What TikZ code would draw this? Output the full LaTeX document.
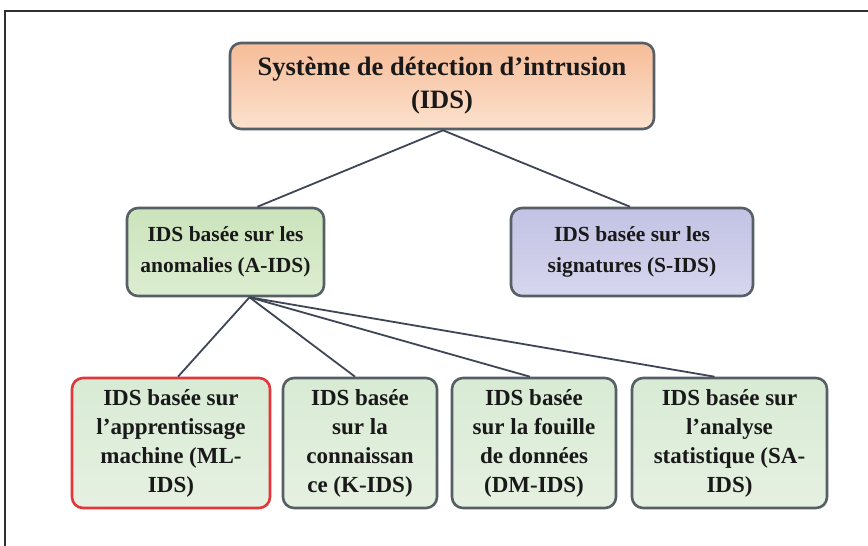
\documentclass[tikz,border=0pt]{standalone}
\usepackage{fontspec}
\setmainfont{Liberation Serif}
\begin{document}
\begin{tikzpicture}[x=1pt,y=-1pt,
  box/.style={draw=boxedge, line width=2.6pt, rounded corners=11pt,
    align=center, text=black!90, inner sep=0pt},
  rootbox/.style={box, top color=rootA, bottom color=rootB,
    minimum width=424pt, minimum height=86pt,
    font=\fontsize{26.5}{33}\selectfont\bfseries},
  midbox/.style={box, minimum height=88pt,
    font=\fontsize{21.5}{31}\selectfont\bfseries},
  leafbox/.style={box, top color=leafA, bottom color=leafB,
    minimum height=130pt, font=\fontsize{23}{29}\selectfont\bfseries},
  link/.style={draw=linkcol, line width=1.8pt}]
\definecolor{boxedge}{HTML}{565E66}
\definecolor{linkcol}{HTML}{3E4656}
\definecolor{rootA}{HTML}{F6BC98}
\definecolor{rootB}{HTML}{FCE2CE}
\definecolor{anoA}{HTML}{CBE4BC}
\definecolor{anoB}{HTML}{DCEDD0}
\definecolor{sigA}{HTML}{C2C2E4}
\definecolor{sigB}{HTML}{D6D6EE}
\definecolor{leafA}{HTML}{D8EBD4}
\definecolor{leafB}{HTML}{E6F0E2}
\definecolor{mlred}{HTML}{E2363A}
\definecolor{framecol}{HTML}{303030}

\useasboundingbox (0,0) rectangle (868,546);
\fill[white] (0,0) rectangle (868,546);

% open frame: top and left rules
\coordinate (fa) at (5,546);
\coordinate (fb) at (5,11);
\coordinate (fc) at (868,11);
\draw[framecol, line width=1.4pt] (fa) -- (fb) -- (fc);

% tree levels
\node[rootbox] (root) at (442,86) {Système de détection d’intrusion\\(IDS)};

\node[midbox, top color=anoA, bottom color=anoB, minimum width=197pt]
  (aids) at (225.5,252) {IDS basée sur les\\anomalies (A-IDS)};
\node[midbox, top color=sigA, bottom color=sigB, minimum width=242pt]
  (sids) at (632,252) {IDS basée sur les\\signatures (S-IDS)};

\node[leafbox, draw=mlred, minimum width=198pt] (ml) at (171,443)
  {IDS basée sur\\l’apprentissage\\machine (ML-\\IDS)};
\node[leafbox, minimum width=154pt] (kids) at (360,443)
  {IDS basée\\sur la\\connaissan\\ce (K-IDS)};
\node[leafbox, minimum width=164pt] (dm) at (534,443)
  {IDS basée\\sur la fouille\\de données\\(DM-IDS)};
\node[leafbox, minimum width=195pt] (sa) at (729.5,443)
  {IDS basée sur\\l’analyse\\statistique (SA-\\IDS)};

% connectors
\draw[link] ([xshift=1pt]root.south) -- ([xshift=32pt]aids.north);
\draw[link] ([xshift=1pt]root.south) -- ([xshift=-2pt]sids.north);
\draw[link] ([xshift=24pt]aids.south) -- ([xshift=7pt]ml.north);
\draw[link] ([xshift=24pt]aids.south) -- ([xshift=-5pt]kids.north);
\draw[link] ([xshift=24pt]aids.south) -- ([xshift=-4pt]dm.north);
\draw[link] ([xshift=24pt]aids.south) -- ([xshift=-15pt]sa.north);
\end{tikzpicture}
\end{document}
